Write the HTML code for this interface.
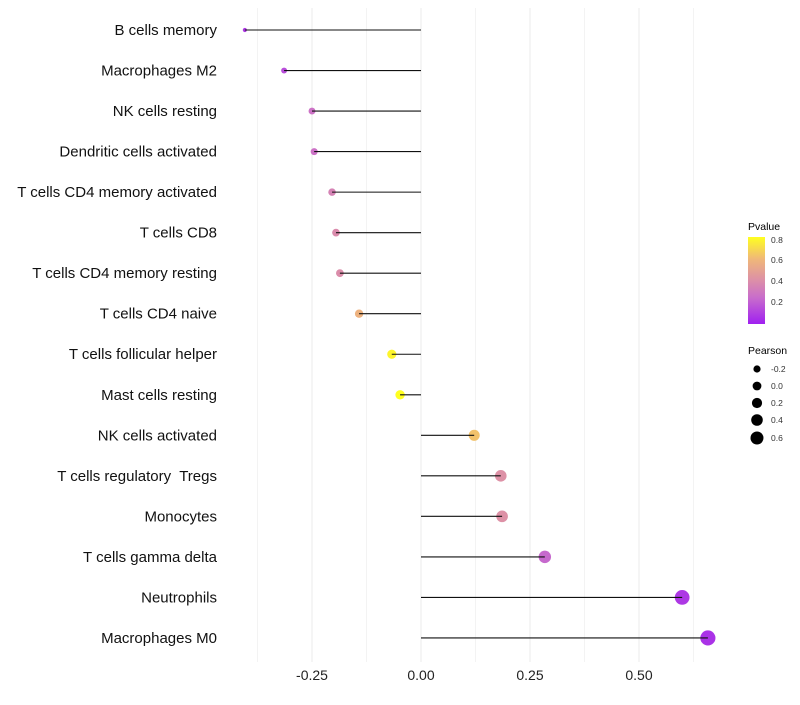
<!DOCTYPE html>
<html><head><meta charset="utf-8"><style>
body{margin:0;background:#fff;font-family:"Liberation Sans",sans-serif}
text{white-space:pre}
</style></head><body>
<svg id="chart" width="800" height="700" xmlns="http://www.w3.org/2000/svg">
<defs><linearGradient id="pg" x1="0" y1="1" x2="0" y2="0">
<stop offset="0" stop-color="#a020f0"/><stop offset="0.3" stop-color="#c86ccc"/><stop offset="0.5" stop-color="#dc8fa8"/><stop offset="0.75" stop-color="#f0b878"/><stop offset="1" stop-color="#ffff20"/></linearGradient></defs>
<g id="grid"></g><g id="points"></g><g id="stems"></g><g id="labels"></g>
<g>
<text x="748" y="230" font-size="10.5">Pvalue</text>
<rect x="748" y="237" width="17" height="87" fill="url(#pg)"/>
<text x="771" y="243" font-size="8.5" fill="#333">0.8</text>
<text x="771" y="263" font-size="8.5" fill="#333">0.6</text>
<text x="771" y="284" font-size="8.5" fill="#333">0.4</text>
<text x="771" y="305" font-size="8.5" fill="#333">0.2</text>
</g>
<g>
<text x="748" y="354" font-size="10.5">Pearson</text>
<circle cx="757" cy="369" r="3.6"/><text x="771" y="372" font-size="8.5" fill="#333">-0.2</text>
<circle cx="757" cy="386" r="4.4"/><text x="771" y="389" font-size="8.5" fill="#333">0.0</text>
<circle cx="757" cy="403" r="5.1"/><text x="771" y="406" font-size="8.5" fill="#333">0.2</text>
<circle cx="757" cy="420" r="5.8"/><text x="771" y="423" font-size="8.5" fill="#333">0.4</text>
<circle cx="757" cy="438" r="6.5"/><text x="771" y="441" font-size="8.5" fill="#333">0.6</text>
</g>
</svg>
<script>
const categories=["B cells memory","Macrophages M2","NK cells resting","Dendritic cells activated","T cells CD4 memory activated","T cells CD8","T cells CD4 memory resting","T cells CD4 naive","T cells follicular helper","Mast cells resting","NK cells activated","T cells regulatory  Tregs","Monocytes","T cells gamma delta","Neutrophils","Macrophages M0"];
const pearson=[-0.404,-0.314,-0.25,-0.245,-0.204,-0.195,-0.186,-0.142,-0.067,-0.048,0.122,0.183,0.186,0.284,0.599,0.658];
const pvalue=[0.08,0.15,0.28,0.28,0.36,0.4,0.41,0.6,0.82,0.85,0.66,0.43,0.43,0.24,0.08,0.06];
const xticks=[-0.25,0,0.25,0.5];
const xtickLabels=["-0.25","0.00","0.25","0.50"];
const ns="http://www.w3.org/2000/svg";
const x=v=>421+v*436;
const y=i=>30+i*40.53;
const rad=v=>Math.sqrt(3.5+50*Math.max(0,v+0.42));
const stops=[[0,[160,32,240]],[0.25,[200,108,204]],[0.42,[220,143,168]],[0.63,[240,184,120]],[0.85,[255,255,32]]];
function col(p){p=Math.max(0,Math.min(0.85,p));for(let k=1;k<stops.length;k++){if(p<=stops[k][0]){const a=stops[k-1],b=stops[k],t=(p-a[0])/(b[0]-a[0]);return "rgb("+a[1].map((c,j)=>Math.round(c+(b[1][j]-c)*t)).join(",")+")";}}return "rgb(255,255,32)";}
function mk(t,at,parent){const e=document.createElementNS(ns,t);for(const k in at)e.setAttribute(k,at[k]);parent.appendChild(e);return e;}
const grid=document.getElementById('grid'),points=document.getElementById('points'),stems=document.getElementById('stems'),labels=document.getElementById('labels');
for(let v=-0.375;v<=0.63;v+=0.125){const g=mk('line',{x1:x(v),x2:x(v),y1:8,y2:662,stroke:'#ebebeb','stroke-width':Math.abs(v/0.25-Math.round(v/0.25))<0.01?1:0.6},grid);

}
xticks.forEach((v,i)=>{const t=mk('text',{x:x(v),y:680,'font-size':14,'text-anchor':'middle',fill:'#222'},labels);t.textContent=xtickLabels[i];

});
categories.forEach((c,i)=>{
const t=mk('text',{x:217,y:y(i)+5,'font-size':15,'text-anchor':'end',fill:'#111'},labels);t.textContent=c;


const p=mk('circle',{cx:x(pearson[i]),cy:y(i),r:rad(pearson[i]),fill:col(pvalue[i])},points);


const l=mk('line',{x1:x(0),x2:x(pearson[i]),y1:y(i),y2:y(i),stroke:'#111','stroke-width':1.1},stems);


});
</script>
</body></html>
